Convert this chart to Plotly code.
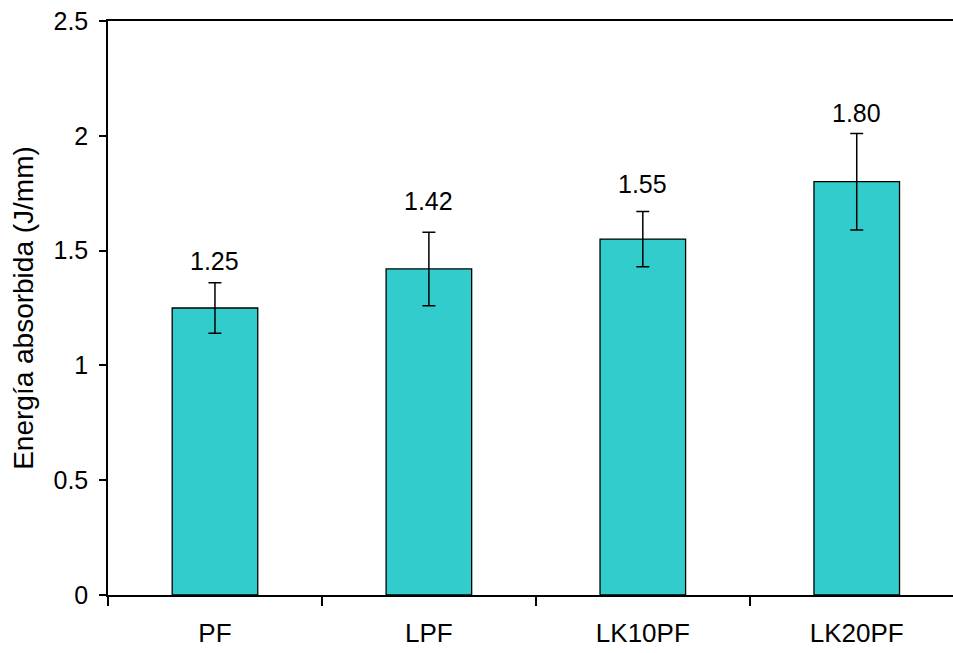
import plotly.graph_objects as go

# Absorbed energy per formulation
categories = ["PF", "LPF", "LK10PF", "LK20PF"]
energy = [1.25, 1.42, 1.55, 1.80]
energy_err = [0.11, 0.16, 0.12, 0.21]
value_labels = ["1.25", "1.42", "1.55", "1.80"]

FONT = "Liberation Sans, Arial, sans-serif"
BAR_COLOR = "#33CCCC"
label_lift = [22, 31, 28, 21]  # px above the top of each error bar

fig = go.Figure(
    go.Bar(
        x=categories,
        y=energy,
        width=0.4,
        marker=dict(color=BAR_COLOR, line=dict(color="black", width=1.3)),
        error_y=dict(type="data", array=energy_err, visible=True,
                     color="black", thickness=1.5, width=6.5),
        showlegend=False,
    )
)

for cat, val, err, txt, lift in zip(categories, energy, energy_err, value_labels, label_lift):
    fig.add_annotation(
        x=cat, y=val + err, text=txt, showarrow=False,
        yanchor="middle", yshift=lift,
        font=dict(family=FONT, size=25, color="black"),
    )

fig.update_layout(
    width=953,
    height=653,
    margin=dict(l=108, r=0, t=21, b=58),
    plot_bgcolor="white",
    paper_bgcolor="white",
    bargap=0.6,
)

fig.update_xaxes(
    type="category",
    range=[-0.5, 3.45],
    tickson="boundaries",
    ticks="outside",
    ticklen=9,
    tickwidth=1.5,
    tickcolor="black",
    showline=True,
    linecolor="black",
    linewidth=1.5,
    mirror=True,
    showgrid=False,
    tickfont=dict(family=FONT, size=26, color="black"),
    ticklabelstandoff=14,
)

fig.update_yaxes(
    range=[0, 2.5],
    tickvals=[0, 0.5, 1, 1.5, 2, 2.5],
    ticktext=["0", "0.5", "1", "1.5", "2", "2.5"],
    ticks="outside",
    ticklen=7,
    tickwidth=1.5,
    tickcolor="black",
    showline=True,
    linecolor="black",
    linewidth=1.5,
    showgrid=False,
    zeroline=False,
    tickfont=dict(family=FONT, size=25, color="black"),
    ticklabelstandoff=6,
    title=dict(text="Energía absorbida (J/mm)",
               font=dict(family=FONT, size=28, color="black"),
               standoff=12),
)

fig.write_html("out.html")
